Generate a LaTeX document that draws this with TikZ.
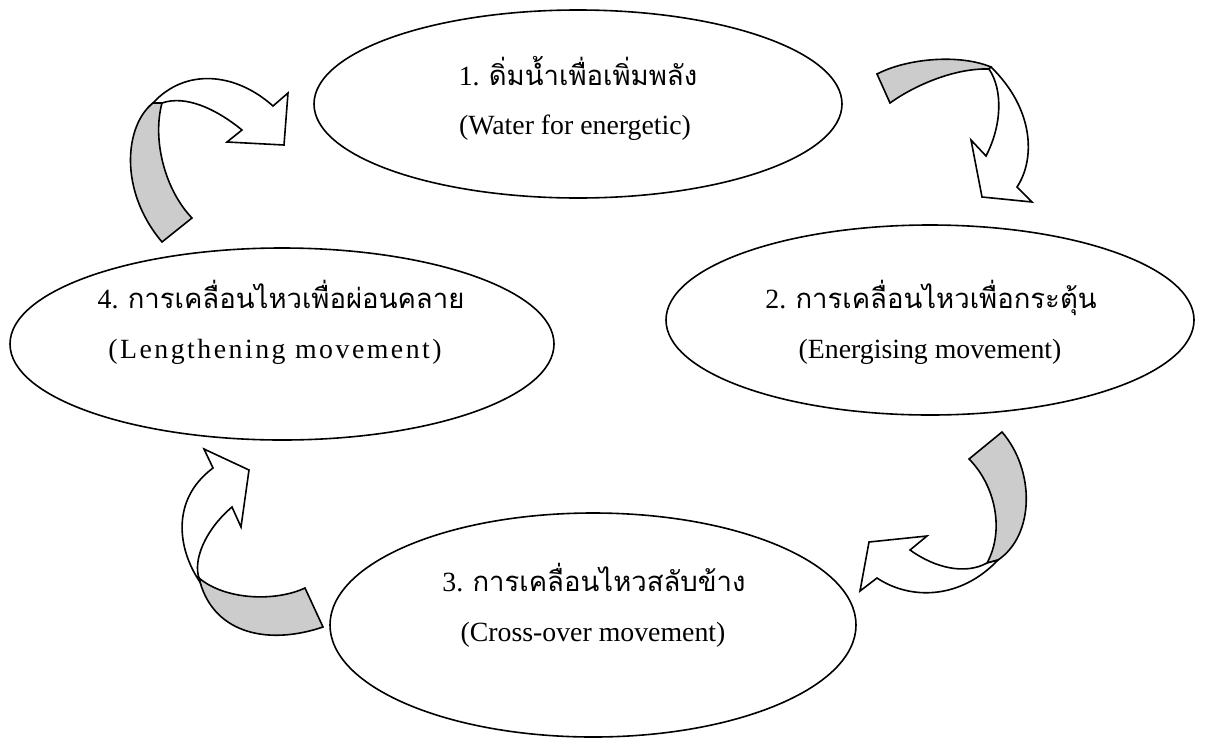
\documentclass[tikz,border=0pt]{standalone}
\usepackage{fontspec}
\setmainfont{Liberation Serif}
\newfontfamily\thaifont[Script=Thai]{Loma}
\usetikzlibrary{shapes.geometric}
\definecolor{ribbon}{RGB}{204,204,204}
\tikzset{
  bubble/.style={draw, ellipse, line width=1.6pt, inner sep=0pt},
  ribbonback/.style={draw, line width=1.6pt, fill=ribbon, line join=miter},
  ribbonfront/.style={draw, line width=1.6pt, fill=white, line join=miter},
  lbl/.style={anchor=base, inner sep=0pt, font=\fontsize{27.8}{33}\selectfont},
}
\newcommand{\thtxt}[1]{{\thaifont\fontsize{27.5}{32}\selectfont #1}}
\begin{document}
\begin{tikzpicture}[x=1pt,y=-1pt]
\useasboundingbox (0,0) rectangle (1206,742);
% ellipses
\node[bubble, minimum width=528pt, minimum height=188pt] (e1) at (578,104) {};
\node[bubble, minimum width=528pt, minimum height=190pt] (e2) at (930,320) {};
\node[bubble, minimum width=526pt, minimum height=224pt] (e3) at (593,625) {};
\node[bubble, minimum width=544pt, minimum height=192pt] (e4) at (282,344) {};
% texts
\node[lbl] (t1) at (578,85) {1. \thtxt{ดิ่มน้ำเพื่อเพิ่มพลัง}};
\node[lbl] (s1) at (575,134) {(Water for energetic)};
\node[lbl] (t2) at (931,308) {2. \thtxt{การเคลื่อนไหวเพื่อกระตุ้น}};
\node[lbl] (s2) at (930,358) {(Energising movement)};
\node[lbl] (t3) at (594,591) {3. \thtxt{การเคลื่อนไหวสลับข้าง}};
\node[lbl] (s3) at (593,641) {(Cross-over movement)};
\node[lbl] (t4) at (281,308) {4. \thtxt{การเคลื่อนไหวเพื่อผ่อนคลาย}};
\node[lbl] (s4) at (275,358) {\addfontfeature{LetterSpace=9}(Lengthening movement)};
% arrow 1 (top left)
\draw[ribbonback] (153,103) .. controls (125,125) and (118,190) .. (162,242)
  -- (192,218) .. controls (165,190) and (152,140) .. (162,103) -- cycle;
\draw[ribbonfront] (153,103) .. controls (185,68) and (235,72) .. (273,106)
  -- (288,93) -- (284,145) -- (227,142) -- (242,130)
  .. controls (215,108) and (185,95) .. (162,103) -- cycle;
% arrow 2 (top right)
\draw[ribbonback] (890,103) -- (877,74) .. controls (908,58) and (960,54) .. (991,67)
  -- (989,69) .. controls (955,68) and (915,85) .. (890,103) -- cycle;
\draw[ribbonfront] (991,67) .. controls (1035,110) and (1035,160) .. (1017,187)
  -- (1032,202) -- (982,197) -- (971,140) -- (986,156)
  .. controls (1002,125) and (1003,90) .. (989,69) -- cycle;
% arrow 3 (bottom right)
\draw[ribbonback] (969,459) -- (1002,432) .. controls (1035,470) and (1035,535) .. (998,560)
  -- (987,563) .. controls (1005,530) and (995,485) .. (969,459) -- cycle;
\draw[ribbonfront] (998,560) .. controls (960,600) and (910,600) .. (877,578)
  -- (860,591) -- (869,542) -- (927,536) -- (910,550)
  .. controls (935,568) and (965,575) .. (987,563) -- cycle;
% arrow 4 (bottom left)
\draw[ribbonback] (305,588) -- (323,627) .. controls (270,645) and (215,635) .. (200,582)
  -- (199,578) .. controls (225,600) and (275,602) .. (305,588) -- cycle;
\draw[ribbonfront] (200,582) .. controls (178,550) and (170,500) .. (213,468)
  -- (204,449) -- (249,470) -- (241,527) -- (232,507)
  .. controls (205,530) and (193,560) .. (199,578) -- cycle;
\end{tikzpicture}
\end{document}
